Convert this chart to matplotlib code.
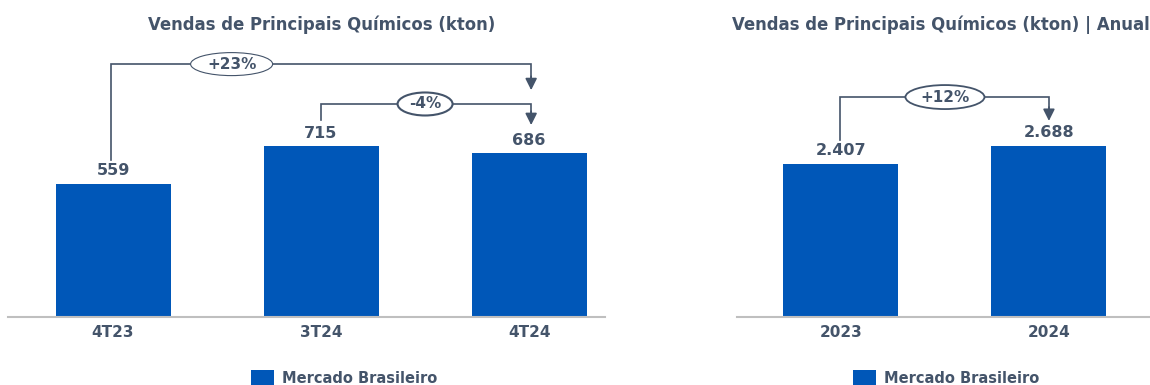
import matplotlib
matplotlib.use("Agg")
import matplotlib.pyplot as plt
from matplotlib.patches import Ellipse, Patch
import matplotlib.transforms as mtransforms

plt.rcParams['font.family'] = ['DejaVu Sans']

# data
q_labels = ["4T23", "3T24", "4T24"]
q_values = [559, 715, 686]
y_labels = ["2023", "2024"]
y_values = [2407, 2688]
y_value_text = ["2.407", "2.688"]
title_left = "Vendas de Principais Químicos (kton)"
title_right = "Vendas de Principais Químicos (kton) | Anual"
legend_label = "Mercado Brasileiro"

BAR = "#0057B8"
TXT = "#44546A"
AXC = "#BFBFBF"

W, H = 1150, 385
fig = plt.figure(figsize=(W / 100, H / 100), dpi=100)

def px_axes(x0, x1, ytop, ybase):
    return fig.add_axes([x0 / W, (H - ybase) / H, (x1 - x0) / W, (ybase - ytop) / H])

axL = px_axes(8, 605, 40, 317)
axR = px_axes(737, 1150, 40, 317)

def setup(ax, labels, values, texts, xlim, ymax):
    x = list(range(len(values)))
    ax.bar(x, values, width=0.553, color=BAR, zorder=2)
    ax.set_xlim(*xlim)
    ax.set_ylim(0, ymax)
    for s in ["top", "right", "left"]:
        ax.spines[s].set_visible(False)
    ax.spines["bottom"].set_color(AXC)
    ax.spines["bottom"].set_linewidth(1.5)
    ax.set_yticks([])
    ax.set_xticks(x)
    ax.set_xticklabels(labels, fontsize=11, fontweight="bold", color=TXT)
    ax.tick_params(axis="x", length=0, pad=6)
    for xi, v, t in zip(x, values, texts):
        ax.annotate(t, (xi, v), xytext=(0, 4), textcoords="offset points",
                    ha="center", va="bottom", fontsize=11.5, fontweight="bold", color=TXT)

setup(axL, q_labels, q_values, [str(v) for v in q_values], (-0.505, 2.365), 1161)
setup(axR, y_labels, y_values, y_value_text, (-0.5, 1.486), 4355)

def bracket(ax, x0, x1, y_start, y_line, y_tip, label, ell_w, ell_h, ell_x, lw_e=1.0):
    tr = mtransforms.blended_transform_factory(ax.transData, ax.transAxes)
    ax.plot([x0, x0, x1, x1], [y_start, y_line, y_line, y_tip + 0.04], color=TXT,
            lw=1.2, transform=tr, clip_on=False, zorder=3, solid_joinstyle="miter")
    ax.annotate("", xy=(x1, y_tip), xycoords=tr, xytext=(x1, y_tip + 0.05), textcoords=tr,
                arrowprops=dict(arrowstyle="-|>,head_length=0.7,head_width=0.35",
                                color=TXT, lw=1.2, shrinkA=0, shrinkB=0))
    fig_tr = fig.transFigure
    disp = tr.transform((ell_x, y_line))
    fx, fy = fig.transFigure.inverted().transform(disp)
    e = Ellipse((fx, fy), ell_w / W, ell_h / H, transform=fig_tr, facecolor="white",
                edgecolor=TXT, lw=lw_e, zorder=4)
    fig.add_artist(e)
    fig.text(fx, fy, label, ha="center", va="center", fontsize=11, fontweight="bold",
             color=TXT, zorder=5)

# +23%
bracket(axL, -0.01, 2.01, 0.567, 0.913, 0.819, "+23%", 82, 23, 0.57, lw_e=0.8)
# -4%
bracket(axL, 1.0, 2.01, 0.711, 0.769, 0.693, "-4%", 55, 23, 1.5, lw_e=1.5)
# +12%
bracket(axR, -0.005, 1.0, 0.639, 0.794, 0.708, "+12%", 79, 24, 0.5, lw_e=1.3)

fig.text(322 / W, 1 - 25 / H, title_left, ha="center", va="center", fontsize=11.9,
         fontweight="bold", color=TXT)
fig.text(941 / W, 1 - 25 / H, title_right, ha="center", va="center", fontsize=11.9,
         fontweight="bold", color=TXT)

for cx in (344, 946):
    fig.legend(handles=[Patch(facecolor=BAR, label=legend_label)], loc="center",
               bbox_to_anchor=(cx / W, 1 - 378 / H), frameon=False, handlelength=1.6,
               handleheight=1.4, handletextpad=0.55,
               prop=dict(size=10.5, weight="bold"), labelcolor=TXT)

fig.savefig("out.png", dpi=100)
